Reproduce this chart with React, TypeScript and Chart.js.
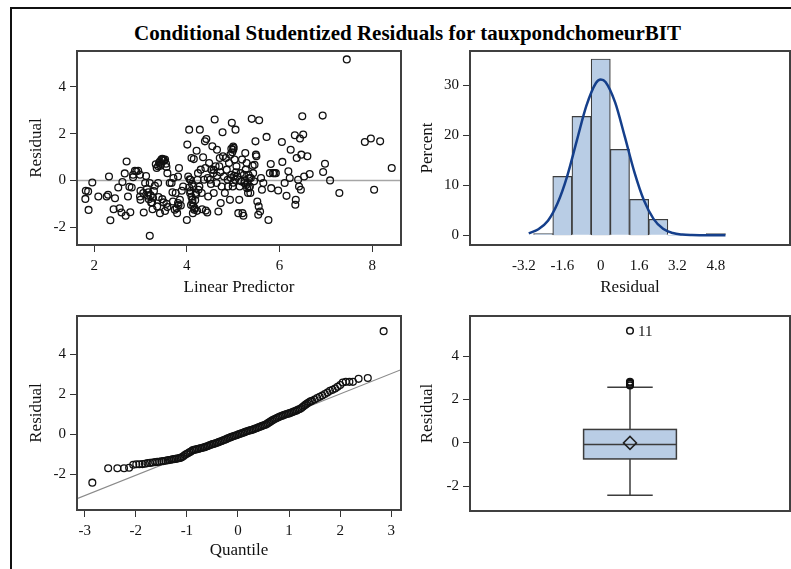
import React, { useEffect, useRef } from 'react';
import { Chart, registerables } from 'chart.js';

Chart.register(...registerables);

const FONT = "'Liberation Serif', 'Times New Roman', serif";
const TEXT = '#111111';
const FILL = '#b9cde5';
const EDGE = '#3c3c3c';

// ---------- Panel 1: residual vs linear predictor ----------
const scatterPredictor = [
  1.82, 1.87, 1.81, 1.88, 1.96, 2.09, 2.27, 2.32, 2.30, 2.45,
  2.42, 2.35, 2.52, 2.55, 2.59, 2.61, 2.66, 2.70, 2.68, 2.73,
  2.78, 2.76, 2.81, 2.84, 2.84, 2.88, 2.91, 2.95, 2.99, 3.00,
  2.99, 3.00, 3.06, 3.07, 3.12, 3.10, 3.14, 3.17, 3.20, 3.22,
  3.23, 3.26, 3.27, 3.31, 3.33, 3.35, 3.36, 3.38, 3.39, 3.42,
  3.43, 3.45, 3.49, 3.53, 3.55, 3.56, 3.58, 3.42, 3.47, 3.50,
  3.53, 3.56, 3.58, 3.20, 3.63, 3.67, 3.69, 3.71, 3.76, 3.78,
  3.79, 3.81, 3.81, 3.83, 3.85, 3.87, 3.89, 3.92, 4.00, 4.01,
  4.03, 4.05, 4.07, 4.08, 4.10, 4.12, 4.14, 4.15, 4.17, 4.19,
  4.21, 4.23, 4.24, 4.27, 4.28, 4.30, 4.32, 4.33, 4.35, 4.37,
  4.39, 4.40, 4.41, 4.42, 4.44, 4.46, 4.48, 4.50, 4.53, 4.55,
  4.57, 4.58, 4.60, 4.62, 4.64, 4.65, 4.68, 4.70, 4.71, 4.73,
  4.75, 4.77, 4.78, 4.80, 4.82, 4.84, 4.86, 4.88, 4.89, 4.91,
  4.93, 4.94, 4.96, 4.97, 4.99, 5.00, 5.01, 5.03, 5.04, 5.05,
  5.07, 5.09, 5.11, 5.13, 5.14, 5.16, 5.17, 5.19, 5.20, 5.22,
  5.23, 5.24, 5.26, 5.27, 5.29, 5.30, 5.32, 5.33, 5.35, 5.36,
  5.37, 5.40, 5.42, 5.43, 5.45, 5.46, 5.48, 5.49, 5.50, 5.52,
  5.54, 5.55, 5.56, 5.58, 5.60, 5.62, 5.65, 5.72, 5.76, 5.79,
  5.81, 5.82, 5.86, 5.89, 5.92, 5.97, 6.05, 6.06, 6.11, 6.15,
  6.19, 6.22, 6.24, 6.33, 6.34, 6.35, 6.37, 6.40, 6.42, 6.44,
  6.46, 6.47, 6.49, 6.51, 6.53, 6.60, 6.65, 6.93, 6.94, 6.98,
  7.09, 7.29, 7.45, 7.84, 7.97, 8.17, 8.04, 8.42,
  4.05, 4.08, 4.10, 4.12, 4.14, 4.16, 4.09, 4.18, 4.20, 4.11,
  4.06, 4.22, 4.13, 4.25, 4.95, 5.00, 5.02, 5.06, 4.98, 5.00,
  4.96, 5.28, 5.31, 5.34, 5.38, 5.25, 3.40, 3.47, 3.51, 3.38,
  3.44, 3.15, 3.18, 3.25, 3.29, 3.74, 3.82, 3.70, 4.65, 4.72,
  4.58, 4.45, 4.52,
];
const scatterResidual = [
  -0.44, -0.47, -0.79, -1.26, -0.09, -0.69, -0.69, 0.17, -0.61, -0.76,
  -1.23, -1.70, -0.30, -1.19, -1.37, -0.07, 0.30, 0.81, -1.51, -0.69,
  -1.36, -0.27, -0.30, 0.14, 0.24, 0.41, 0.39, 0.41, 0.24, -0.44,
  -0.69, -0.83, -0.54, -1.37, 0.19, -0.11, -0.36, -0.51, -0.11, -0.64,
  -0.94, -1.23, -0.74, -0.23, 0.69, 0.53, -1.11, -0.11, -0.71, 0.81,
  0.63, 0.89, 0.89, 0.89, 0.71, 0.57, 0.31, -1.40, -0.80, -0.94,
  -1.31, -1.00, -1.14, -2.37, -0.11, -0.11, -0.51, 0.10, -0.54, -1.19,
  -1.40, -0.97, 0.17, 0.53, -0.83, -1.07, -0.44, -0.26, -1.69, 1.53,
  0.17, 2.17, -0.54, 0.03, 0.96, -0.83, -0.26, 0.91, -1.19, -0.54,
  1.27, 0.03, 0.31, -0.26, 2.17, 0.46, -0.54, -1.23, 0.99, 0.03,
  1.67, 0.53, -1.29, 1.77, -1.37, -0.69, 0.74, 0.03, 0.46, 1.46,
  0.31, -0.54, 2.60, 0.60, -0.11, 1.31, -1.33, 0.60, 0.96, -0.97,
  -0.26, 2.06, 1.03, 0.17, -0.54, 0.96, 0.46, 0.03, -0.26, 0.74,
  -0.83, 1.10, 0.24, 2.46, -0.26, 1.31, 1.39, 0.89, 0.03, 2.17,
  0.60, 0.17, -1.40, -0.83, -0.26, 0.31, -0.04, 0.89, -1.40, -1.51,
  0.24, -0.11, 1.17, 0.46, 0.74, -0.33, -0.54, 0.24, 0.10, -0.26,
  -0.54, 2.63, 0.63, 0.31, -0.04, 0.67, 1.67, 1.10, 1.03, -0.90,
  -1.47, -1.11, 2.57, -1.33, 0.10, -0.40, -0.11, 1.86, -1.69, 0.31,
  0.70, -0.33, 0.31, 0.31, 0.31, -0.43, 1.64, 0.79, -0.11, -0.66,
  0.39, 0.10, 1.31, 1.93, -1.04, -0.83, 0.96, 0.03, -0.26, 1.79,
  -0.40, 1.10, 2.74, 1.96, 0.17, 1.03, 0.27, 2.77, 0.36, 0.71,
  0.00, -0.54, 5.17, 1.64, 1.79, 1.67, -0.40, 0.53,
  -0.30, -0.45, -0.70, -0.95, -1.10, -1.25, -1.05, -0.85, -0.60, -0.15,
  0.05, -1.30, -1.40, -0.40, 0.10, -0.10, 0.20, 0.35, 1.20, 1.45,
  1.35, -0.20, -0.10, -0.30, 0.10, 0.00, 0.75, 0.92, 0.85, 0.60,
  0.70, -0.65, -0.80, -0.95, -0.45, -1.25, -1.05, -0.90, 0.20, 0.35,
  0.45, 0.10, -0.15,
];
const predictorTicks = [2, 4, 6, 8];
const residualTicks = [-2, 0, 2, 4];

// ---------- Panel 2: histogram of residuals ----------
const binMidpoints = [-2.4, -1.6, -0.8, 0, 0.8, 1.6, 2.4, 3.2, 4.0, 4.8];
const binPercents = [0.35, 11.8, 23.8, 35.3, 17.2, 7.2, 3.2, 0, 0, 0.35];
const normalX = [-3.0, -2.6, -2.2, -1.8, -1.4, -1.0, -0.6, -0.2, 0.0, 0.2, 0.6, 1.0, 1.4, 1.8, 2.2, 2.6, 3.0, 3.4, 3.8, 4.2, 4.6, 5.0, 5.2];
const normalY = [0.4, 1.2, 2.9, 6.4, 11.8, 18.9, 25.9, 30.5, 31.2, 30.7, 26.6, 19.8, 12.7, 7.0, 3.3, 1.3, 0.45, 0.15, 0.05, 0.02, 0.01, 0.0, 0.0];
const histXTicks = [-3.2, -1.6, 0, 1.6, 3.2, 4.8];
const percentTicks = [0, 10, 20, 30];

// ---------- Panel 3: normal quantile plot ----------
const qqQuantile = [
  -2.85, -2.54, -2.36, -2.23, -2.13, -2.05, -1.99, -1.93, -1.87, -1.82,
  -1.77, -1.72, -1.67, -1.62, -1.58, -1.54, -1.50, -1.46, -1.42, -1.38,
  -1.35, -1.31, -1.28, -1.25, -1.22, -1.19, -1.16, -1.13, -1.10, -1.07,
  -1.04, -1.01, -0.98, -0.95, -0.92, -0.89, -0.86, -0.83, -0.80, -0.77,
  -0.74, -0.71, -0.68, -0.65, -0.62, -0.59, -0.56, -0.53, -0.50, -0.47,
  -0.44, -0.41, -0.38, -0.35, -0.32, -0.29, -0.26, -0.23, -0.20, -0.17,
  -0.14, -0.11, -0.08, -0.05, -0.02, 0.01, 0.04, 0.07, 0.10, 0.13,
  0.16, 0.19, 0.22, 0.25, 0.28, 0.31, 0.34, 0.37, 0.40, 0.43,
  0.46, 0.49, 0.52, 0.55, 0.58, 0.61, 0.64, 0.67, 0.70, 0.73,
  0.76, 0.79, 0.82, 0.85, 0.88, 0.91, 0.94, 0.97, 1.00, 1.03,
  1.06, 1.09, 1.12, 1.15, 1.18, 1.21, 1.24, 1.27, 1.30, 1.33,
  1.36, 1.39, 1.42, 1.45, 1.50, 1.55, 1.60, 1.65, 1.70, 1.75,
  1.80, 1.85, 1.90, 1.95, 2.00, 2.05, 2.11, 2.18, 2.25, 2.36,
  2.54, 2.85,
];
const qqResidual = [
  -2.42, -1.70, -1.70, -1.70, -1.67, -1.52, -1.50, -1.50, -1.49, -1.47,
  -1.44, -1.43, -1.41, -1.39, -1.38, -1.37, -1.35, -1.34, -1.32, -1.30,
  -1.29, -1.27, -1.25, -1.24, -1.23, -1.21, -1.20, -1.18, -1.15, -1.10,
  -1.04, -0.99, -0.95, -0.90, -0.86, -0.80, -0.78, -0.76, -0.74, -0.72,
  -0.70, -0.68, -0.66, -0.64, -0.61, -0.58, -0.55, -0.52, -0.49, -0.47,
  -0.45, -0.42, -0.39, -0.36, -0.33, -0.30, -0.27, -0.24, -0.20, -0.17,
  -0.14, -0.11, -0.08, -0.06, -0.03, 0.00, 0.03, 0.05, 0.08, 0.11,
  0.14, 0.17, 0.19, 0.21, 0.23, 0.26, 0.29, 0.32, 0.35, 0.38,
  0.41, 0.44, 0.47, 0.50, 0.55, 0.60, 0.65, 0.70, 0.74, 0.78,
  0.82, 0.86, 0.89, 0.92, 0.95, 0.98, 1.01, 1.03, 1.05, 1.08,
  1.11, 1.14, 1.17, 1.20, 1.24, 1.27, 1.32, 1.38, 1.44, 1.50,
  1.56, 1.61, 1.65, 1.68, 1.75, 1.82, 1.88, 1.95, 2.02, 2.10,
  2.18, 2.23, 2.30, 2.38, 2.47, 2.60, 2.63, 2.63, 2.63, 2.78,
  2.82, 5.17,
];
const qqLineQuantile = [-3.15, 3.19];
const qqLineResidual = [-3.22, 3.24];
const quantileTicks = [-3, -2, -1, 0, 1, 2, 3];

// ---------- Panel 4: box plot ----------
// low whisker, Q1, median, Q3, high whisker
const boxFiveNumber = [-2.41, -0.74, -0.07, 0.62, 2.57];
const boxMean = [0.0];
const boxOutliers = [2.65, 2.72, 2.78, 2.82, 5.17];
const boxOutlierLabels = ['', '', '', '', '11'];

// ---------- helpers ----------
const tickFont = { family: FONT, size: 15 };
const titleFont = { family: FONT, size: 17 };

function yAxis(min: number, max: number, ticks: number[], title: string, width: number) {
  return {
    type: 'linear',
    position: 'left',
    min,
    max,
    afterBuildTicks: (s: any) => { s.ticks = ticks.map((v) => ({ value: v })); },
    afterFit: (s: any) => { s.width = width; },
    ticks: { font: tickFont, color: TEXT, padding: 4, autoSkip: false, callback: (v: any) => String(v) },
    grid: { drawOnChartArea: false, drawTicks: true, tickLength: 7, color: '#333', lineWidth: 1 },
    border: { display: false },
    title: { display: true, text: title, font: titleFont, color: TEXT, padding: 0 },
  };
}

function xAxis(min: number, max: number, ticks: number[], title: string, height: number, showTicks: boolean, pad: number) {
  return {
    type: 'linear',
    position: 'bottom',
    min,
    max,
    offset: false,
    afterBuildTicks: (s: any) => { s.ticks = ticks.map((v) => ({ value: v })); },
    afterFit: (s: any) => { s.height = height; },
    ticks: { font: tickFont, color: TEXT, padding: pad, autoSkip: false, maxRotation: 0, callback: (v: any) => String(v) },
    grid: { drawOnChartArea: false, drawTicks: showTicks, tickLength: 7, color: '#333', lineWidth: 1, offset: false },
    border: { display: false },
    title: { display: true, text: title, font: titleFont, color: TEXT, padding: 0 },
  };
}

const framePlugin = {
  id: 'frame',
  afterDraw(chart: any) {
    const { ctx, chartArea: a } = chart;
    ctx.save();
    ctx.strokeStyle = '#404040';
    ctx.lineWidth = 2;
    ctx.strokeRect(a.left, a.top, a.right - a.left, a.bottom - a.top);
    ctx.restore();
  },
};

const zeroLinePlugin = {
  id: 'zeroLine',
  beforeDatasetsDraw(chart: any) {
    const { ctx, chartArea: a, scales } = chart;
    const y = scales.y.getPixelForValue(0);
    ctx.save();
    ctx.strokeStyle = '#a6a6a6';
    ctx.lineWidth = 1.5;
    ctx.beginPath();
    ctx.moveTo(a.left, y);
    ctx.lineTo(a.right, y);
    ctx.stroke();
    ctx.restore();
  },
};

const BOX_CENTER = 0.5;
const BOX_HALF = 0.145;
const CAP_HALF = 0.071;

const boxPlugin = {
  id: 'boxDraw',
  beforeDatasetsDraw(chart: any) {
    const { ctx, scales } = chart;
    const xs = scales.x;
    const ys = scales.y;
    const [lo, q1, med, q3, hi] = boxFiveNumber;
    const cx = xs.getPixelForValue(BOX_CENTER);
    const bl = xs.getPixelForValue(BOX_CENTER - BOX_HALF);
    const br = xs.getPixelForValue(BOX_CENTER + BOX_HALF);
    const cl = xs.getPixelForValue(BOX_CENTER - CAP_HALF);
    const cr = xs.getPixelForValue(BOX_CENTER + CAP_HALF);
    ctx.save();
    ctx.strokeStyle = EDGE;
    ctx.lineWidth = 1.5;
    ctx.beginPath();
    ctx.moveTo(cx, ys.getPixelForValue(q3));
    ctx.lineTo(cx, ys.getPixelForValue(hi));
    ctx.moveTo(cl, ys.getPixelForValue(hi));
    ctx.lineTo(cr, ys.getPixelForValue(hi));
    ctx.moveTo(cx, ys.getPixelForValue(q1));
    ctx.lineTo(cx, ys.getPixelForValue(lo));
    ctx.moveTo(cl, ys.getPixelForValue(lo));
    ctx.lineTo(cr, ys.getPixelForValue(lo));
    ctx.stroke();
    const top = ys.getPixelForValue(q3);
    const bot = ys.getPixelForValue(q1);
    ctx.fillStyle = FILL;
    ctx.fillRect(bl, top, br - bl, bot - top);
    ctx.strokeRect(bl, top, br - bl, bot - top);
    ctx.beginPath();
    ctx.moveTo(bl, ys.getPixelForValue(med));
    ctx.lineTo(br, ys.getPixelForValue(med));
    ctx.stroke();
    ctx.restore();
  },
  afterDatasetsDraw(chart: any) {
    const { ctx, scales } = chart;
    ctx.save();
    ctx.fillStyle = TEXT;
    ctx.font = `15px ${FONT}`;
    ctx.textBaseline = 'middle';
    ctx.textAlign = 'left';
    boxOutliers.forEach((v, i) => {
      if (!boxOutlierLabels[i]) return;
      ctx.fillText(boxOutlierLabels[i], scales.x.getPixelForValue(BOX_CENTER) + 8, scales.y.getPixelForValue(v) + 1);
    });
    ctx.restore();
  },
};

const baseOptions = (padding: any) => ({
  responsive: false,
  animation: false,
  devicePixelRatio: 1,
  layout: { padding, autoPadding: false },
  plugins: { legend: { display: false }, tooltip: { enabled: false } },
});

const circleStyle = {
  pointRadius: 3.4,
  pointBorderWidth: 1.3,
  pointBorderColor: '#111',
  pointBackgroundColor: 'transparent',
  borderColor: '#111',
  backgroundColor: 'transparent',
};

function scatterConfig() {
  return {
    type: 'scatter',
    data: {
      datasets: [
        {
          data: scatterPredictor.map((x, i) => ({ x, y: scatterResidual[i] })),
          ...circleStyle,
        },
      ],
    },
    options: {
      ...baseOptions({ top: 16, right: 4, left: 0, bottom: 0 }),
      scales: {
        x: xAxis(1.63, 8.62, predictorTicks, 'Linear Predictor', 53, true, 5),
        y: yAxis(-2.76, 5.53, residualTicks, 'Residual', 51),
      },
    },
    plugins: [zeroLinePlugin, framePlugin],
  };
}

function histConfig() {
  return {
    type: 'bar',
    data: {
      datasets: [
        {
          type: 'line',
          data: normalX.map((x, i) => ({ x, y: normalY[i] })),
          borderColor: '#153f8b',
          borderWidth: 2.5,
          pointRadius: 0,
          cubicInterpolationMode: 'monotone',
          fill: false,
        },
        {
          type: 'bar',
          data: binMidpoints.map((x, i) => ({ x, y: binPercents[i] })),
          backgroundColor: FILL,
          borderColor: EDGE,
          borderWidth: (c: any) => (c.raw && c.raw.y > 0 ? 1.2 : 0),
          barPercentage: 1,
          categoryPercentage: 1,
        },
      ],
    },
    options: {
      ...baseOptions({ top: 16, right: 1, left: 0, bottom: 0 }),
      scales: {
        x: xAxis(-5.45, 7.89, histXTicks, 'Residual', 53, false, 12),
        y: yAxis(-1.94, 36.9, percentTicks, 'Percent', 53),
      },
    },
    plugins: [framePlugin],
  };
}

function qqConfig() {
  return {
    type: 'scatter',
    data: {
      datasets: [
        {
          data: qqQuantile.map((x, i) => ({ x, y: qqResidual[i] })),
          ...circleStyle,
        },
        {
          data: qqLineQuantile.map((x, i) => ({ x, y: qqLineResidual[i] })),
          showLine: true,
          pointRadius: 0,
          borderColor: '#8a8a8a',
          borderWidth: 1.2,
        },
      ],
    },
    options: {
      ...baseOptions({ top: 16, right: 4, left: 0, bottom: 0 }),
      scales: {
        x: xAxis(-3.15, 3.19, quantileTicks, 'Quantile', 51, true, 5),
        y: yAxis(-3.79, 5.93, residualTicks, 'Residual', 51),
      },
    },
    plugins: [framePlugin],
  };
}

function boxConfig() {
  return {
    type: 'scatter',
    data: {
      datasets: [
        {
          data: boxMean.map((y) => ({ x: BOX_CENTER, y })),
          pointStyle: 'rectRot',
          pointRadius: 6.5,
          pointBorderWidth: 1.5,
          pointBorderColor: '#222',
          pointBackgroundColor: 'transparent',
        },
        {
          data: boxOutliers.map((y) => ({ x: BOX_CENTER, y })),
          pointRadius: 3.3,
          pointBorderWidth: 1.5,
          pointBorderColor: '#111',
          pointBackgroundColor: 'transparent',
        },
      ],
    },
    options: {
      ...baseOptions({ top: 16, right: 1, left: 0, bottom: 14 }),
      scales: {
        x: { type: 'linear', min: 0, max: 1, display: false },
        y: yAxis(-3.14, 5.85, residualTicks, 'Residual', 53),
      },
    },
    plugins: [boxPlugin, framePlugin],
  };
}

function ChartPanel({ left, top, width, height, make }: any) {
  const ref = useRef<HTMLCanvasElement | null>(null);
  useEffect(() => {
    const chart = new Chart(ref.current as any, make() as any);
    return () => chart.destroy();
  }, []);
  return (
    <div style={{ position: 'absolute', left, top, width, height }}>
      <canvas ref={ref} width={width} height={height} style={{ display: 'block', width, height }} />
    </div>
  );
}

export default function App() {
  return (
    <div style={{ position: 'absolute', left: 0, top: 0, width: 791, height: 569, background: '#fff', overflow: 'hidden' }}>
      <div style={{ position: 'absolute', left: 10, top: 7, width: 800, height: 600, borderLeft: '2px solid #111', borderTop: '2px solid #111' }} />
      <div style={{ position: 'absolute', left: 0, top: 21, width: 815, textAlign: 'center', fontFamily: FONT, fontWeight: 'bold', fontSize: 21, lineHeight: '24px', color: '#000' }}>
        Conditional Studentized Residuals for tauxpondchomeurBIT
      </div>
      <ChartPanel left={26} top={35} width={379} height={263} make={scatterConfig} />
      <ChartPanel left={417} top={35} width={374} height={263} make={histConfig} />
      <ChartPanel left={26} top={300} width={379} height={261} make={qqConfig} />
      <ChartPanel left={417} top={300} width={374} height={225} make={boxConfig} />
    </div>
  );
}
